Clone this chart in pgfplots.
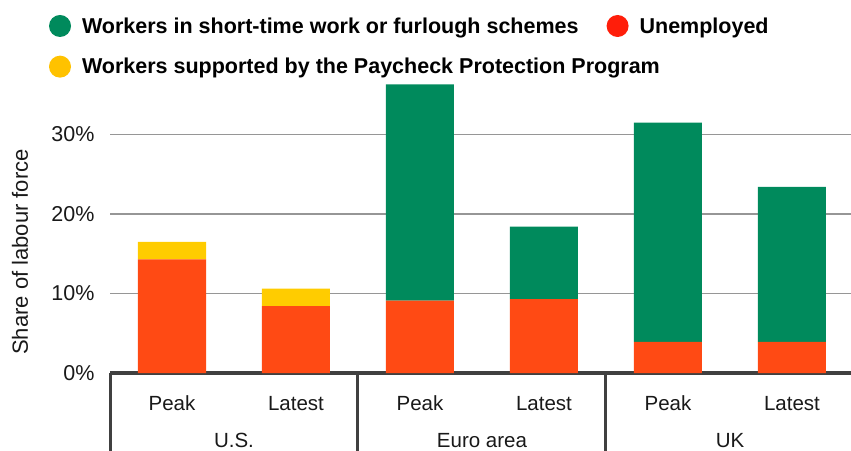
\documentclass[border=0pt]{standalone}
\usepackage{pgfplots}
\pgfplotsset{compat=1.18}
\usepackage{fontspec}
\setmainfont{Liberation Sans}
\definecolor{cgreen}{RGB}{0,138,92}
\definecolor{cred}{RGB}{255,74,20}
\definecolor{cyellow}{RGB}{255,204,0}
\definecolor{lred}{RGB}{255,30,10}
\definecolor{lyellow}{RGB}{255,194,0}
\definecolor{gridgray}{RGB}{150,150,150}
\definecolor{axdark}{RGB}{64,64,64}
\definecolor{txt}{RGB}{25,25,25}
\newcommand{\legfont}{\fontsize{21.5bp}{26bp}\selectfont\bfseries}
\newcommand{\labfont}{\fontsize{20.5bp}{25bp}\selectfont}
\newcommand{\tickfont}{\fontsize{21.5bp}{25bp}\selectfont}
\begin{document}
\begin{tikzpicture}
\begin{axis}[
  at={(110bp,78bp)}, anchor=south west,
  scale only axis, width=741bp, height=288.6bp,
  xmin=-0.5, xmax=5.476, ymin=0, ymax=36.3,
  ybar stacked, bar width=68bp,
  axis line style={draw=none},
  xtick=\empty,
  ytick={0,10,20,30},
  yticklabel={\pgfmathprintnumber{\tick}\%},
  /pgf/number format/assume math mode=true,
  yticklabel style={font=\tickfont, text=txt, xshift=-12bp},
  major tick length=0pt,
  ymajorgrids, grid style={line width=1.5bp, color=gridgray},
  clip=false,
  legend style={draw=none, fill=none, inner sep=0pt, outer sep=0pt,
    at={(-0.0823,1.2024)}, anchor=west, font=\legfont, text=black,
    nodes={inner sep=0pt},
    /tikz/every odd column/.append style={column sep=11bp},
    /tikz/every even column/.append style={column sep=28bp}},
  legend columns=2,
  legend image code/.code={\fill[#1, draw=none] (11bp,0bp) circle (11bp);},
]
\addplot[fill=cred, draw=none, forget plot] coordinates {(0,14.3) (1,8.4) (2,9.1) (3,9.3) (4,3.9) (5,3.9)};
\addplot[fill=cyellow, draw=none, forget plot] coordinates {(0,2.2) (1,2.2) (2,0) (3,0) (4,0) (5,0)};
\addplot[fill=cgreen, draw=none, forget plot] coordinates {(0,0) (1,0) (2,27.2) (3,9.1) (4,27.6) (5,19.5)};
\addlegendimage{fill=cgreen, draw=none}
\addlegendentry{Workers in short-time work or furlough schemes}
\addlegendimage{fill=lred, draw=none}
\addlegendentry{Unemployed}
% axis line and group separators
\draw[line width=3bp, color=axdark] (axis cs:-0.5,0) -- (axis cs:5.476,0);
\draw[line width=3bp, color=axdark] (axis cs:-0.5,0) -- ([yshift=-80bp]axis cs:-0.5,0);
\draw[line width=3bp, color=axdark] (axis cs:1.5,0) -- ([yshift=-80bp]axis cs:1.5,0);
\draw[line width=3bp, color=axdark] (axis cs:3.5,0) -- ([yshift=-80bp]axis cs:3.5,0);
% category labels
\node[anchor=base, font=\labfont, text=txt] at ([yshift=-37bp]axis cs:0,0) {Peak};
\node[anchor=base, font=\labfont, text=txt] at ([yshift=-37bp]axis cs:1,0) {Latest};
\node[anchor=base, font=\labfont, text=txt] at ([yshift=-37bp]axis cs:2,0) {Peak};
\node[anchor=base, font=\labfont, text=txt] at ([yshift=-37bp]axis cs:3,0) {Latest};
\node[anchor=base, font=\labfont, text=txt] at ([yshift=-37bp]axis cs:4,0) {Peak};
\node[anchor=base, font=\labfont, text=txt] at ([yshift=-37bp]axis cs:5,0) {Latest};
\node[anchor=base, inner sep=0pt, font=\labfont, text=txt] at ([yshift=-74bp]axis cs:0.5,0) {U.S.};
\node[anchor=base, inner sep=0pt, font=\labfont, text=txt] at ([yshift=-74bp]axis cs:2.5,0) {Euro area};
\node[anchor=base, inner sep=0pt, font=\labfont, text=txt] at ([yshift=-74bp]axis cs:4.5,0) {UK};
\end{axis}
\begin{axis}[
  at={(110bp,78bp)}, anchor=south west,
  scale only axis, width=741bp, height=288.6bp,
  xmin=-0.5, xmax=5.476, ymin=0, ymax=36.3,
  hide axis,
  legend style={draw=none, fill=none, inner sep=0pt, outer sep=0pt,
    at={(-0.0823,1.0615)}, anchor=west, font=\legfont, text=black,
    nodes={inner sep=0pt},
    /tikz/every odd column/.append style={column sep=11bp}},
  legend image code/.code={\fill[#1, draw=none] (11bp,0bp) circle (11bp);},
]
\addlegendimage{fill=lyellow, draw=none}
\addlegendentry{Workers supported by the Paycheck Protection Program}
\end{axis}
\node[rotate=90, font=\fontsize{22bp}{26bp}\selectfont, text=txt] at (20bp,199bp) {Share of labour force};
\pgfresetboundingbox
\path[use as bounding box] (0,0) rectangle (851bp,451bp);
\end{tikzpicture}
\end{document}
